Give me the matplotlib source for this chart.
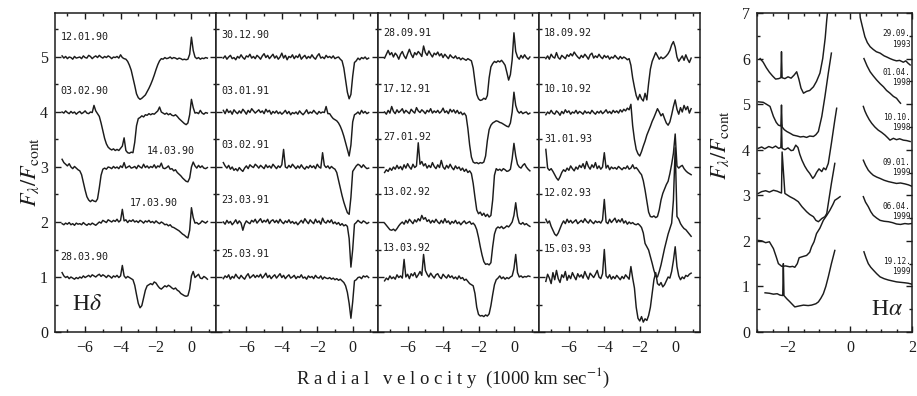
import numpy as np
import matplotlib
matplotlib.use('Agg')
import matplotlib.pyplot as plt
from matplotlib.ticker import MultipleLocator

plt.rcParams['font.family'] = ['Liberation Serif', 'DejaVu Serif']
plt.rcParams['mathtext.fontset'] = 'stix'

# Hdelta spectra: normalised flux sampled every 0.1 (1000 km/s) from -7.3 to 0.9
VEL = np.round(np.arange(-7.3, 0.95, 0.1), 2)

# panel 1 (1990)
s_120190 = [1.02, 0.98, 1.01, 0.97, 1.00, 0.99, 0.96, 1.01, 0.98, 0.99,
            1.00, 0.97, 1.02, 0.99, 0.98, 1.03, 1.01, 0.97, 1.00, 1.02,
            0.99, 1.03, 1.00, 0.98, 1.01, 0.99, 1.02, 1.00, 0.97, 1.00,
            0.99, 1.01, 0.98, 1.04, 0.99, 0.97, 0.96, 0.92, 0.85, 0.76,
            0.62, 0.48, 0.33, 0.26, 0.23, 0.25, 0.28, 0.31, 0.37, 0.43,
            0.50, 0.58, 0.67, 0.77, 0.86, 0.93, 0.97, 0.96, 0.99, 0.97,
            0.98, 1.00, 0.97, 0.99, 0.98, 0.96, 0.98, 0.97, 0.95, 0.96,
            0.95, 0.96, 1.05, 1.36, 1.12, 1.00, 0.97, 0.99, 0.96, 0.98,
            0.97, 0.99, 0.98]
s_030290 = [1.00, 0.98, 1.02, 0.99, 0.97, 1.01, 0.98, 1.00, 0.96, 0.99,
            1.01, 0.97, 0.99, 1.02, 0.98, 0.97, 1.00, 0.99, 1.12, 1.02,
            0.97, 0.92, 0.80, 0.66, 0.52, 0.42, 0.36, 0.33, 0.31, 0.33,
            0.30, 0.32, 0.30, 0.34, 0.38, 0.53, 0.30, 0.26, 0.25, 0.27,
            0.26, 0.45, 0.75, 0.88, 0.90, 0.93, 0.91, 0.95, 0.94, 0.97,
            0.95, 0.97, 0.96, 0.99, 1.02, 1.09, 1.00, 0.98, 0.96, 0.98,
            0.95, 0.97, 0.94, 0.93, 0.95, 0.92, 0.88, 0.85, 0.82, 0.79,
            0.77, 0.80, 0.95, 1.23, 1.08, 0.98, 0.99, 0.97, 1.03, 0.98,
            0.96, 0.99, 0.98]
s_140390 = [1.14, 1.08, 1.05, 1.02, 1.06, 1.00, 0.97, 1.01, 0.98, 0.95,
            0.93, 0.86, 0.72, 0.58, 0.46, 0.40, 0.37, 0.40, 0.38, 0.37,
            0.42, 0.62, 0.85, 0.96, 0.98, 0.96, 1.00, 0.99, 0.97, 1.01,
            0.98, 1.00, 0.97, 1.02, 0.99, 1.08, 0.98, 1.00, 1.02, 0.98,
            0.99, 1.01, 0.97, 1.03, 1.00, 0.98, 1.05, 0.99, 1.02, 0.98,
            1.01, 0.99, 1.04, 0.98, 1.02, 1.00, 1.07, 0.98, 0.97, 0.99,
            1.02, 0.96, 0.97, 0.93, 0.95, 0.90, 0.87, 0.84, 0.80, 0.77,
            0.74, 0.73, 0.80, 1.00, 1.09, 1.02, 0.98, 1.03, 0.99, 1.02,
            0.98, 0.97, 0.99]
s_170390 = [0.97, 0.95, 0.98, 0.96, 0.99, 0.95, 0.97, 0.94, 0.98, 0.96,
            0.97, 0.95, 0.99, 0.96, 0.94, 0.97, 0.95, 0.98, 0.96, 0.94,
            0.97, 1.00, 0.98, 1.03, 1.01, 0.99, 1.04, 1.02, 1.00, 1.03,
            1.01, 1.05, 1.00, 1.03, 1.23, 1.02, 1.04, 0.99, 1.03, 1.01,
            1.04, 1.00, 1.02, 0.99, 1.03, 1.01, 0.98, 1.02, 1.00, 1.03,
            0.99, 1.01, 0.98, 1.02, 0.99, 0.97, 1.00, 0.98, 0.95, 0.96,
            0.93, 0.95, 0.91, 0.90, 0.88, 0.86, 0.84, 0.81, 0.78, 0.76,
            0.73, 0.71, 0.85, 1.26, 1.08, 0.98, 0.99, 0.96, 0.98, 1.02,
            1.00, 0.98, 1.01]
s_280390 = [1.08, 1.02, 0.99, 1.01, 0.97, 1.00, 0.98, 0.96, 0.99, 0.97,
            1.00, 0.98, 1.02, 0.99, 1.01, 1.03, 1.00, 1.04, 1.02, 1.00,
            1.03, 1.05, 1.01, 1.04, 1.02, 0.99, 1.03, 1.01, 0.98, 1.02,
            1.00, 1.03, 0.99, 1.02, 1.21, 1.02, 0.98, 1.01, 0.99, 0.97,
            0.95, 0.85, 0.68, 0.52, 0.44, 0.48, 0.62, 0.76, 0.84, 0.86,
            0.88, 0.86, 0.91, 0.89, 0.84, 0.80, 0.78, 0.81, 0.84, 0.82,
            0.85, 0.83, 0.80, 0.78, 0.80, 0.76, 0.74, 0.70, 0.68, 0.66,
            0.65, 0.66, 0.78, 1.02, 1.10, 0.99, 1.02, 1.05, 0.98, 0.97,
            1.01, 0.99, 0.96]

# panel 2 (1990-91)
s_301290 = [0.98, 1.02, 0.96, 1.00, 1.03, 0.97, 0.99, 0.95, 1.01, 0.98,
            1.04, 0.99, 0.96, 1.02, 1.00, 1.05, 0.98, 1.01, 0.97, 1.03,
            1.00, 0.96, 1.02, 1.06, 0.99, 1.03, 0.97, 1.01, 1.05, 0.98,
            1.02, 0.96, 1.00, 1.07, 0.98, 1.03, 0.95, 1.01, 0.99, 1.04,
            0.97, 1.02, 0.99, 1.05, 0.96, 1.00, 1.03, 0.97, 1.01, 0.98,
            1.04, 0.99, 0.96, 1.02, 1.06, 0.98, 1.00, 0.97, 1.03, 0.99,
            1.01, 0.98, 1.02, 0.97, 0.99, 1.00, 0.96, 0.93, 0.80, 0.58,
            0.36, 0.24, 0.32, 0.65, 0.90, 0.93, 0.98, 0.95, 0.99, 0.97,
            1.00, 0.96, 0.98]
s_030191 = [1.03, 0.97, 1.05, 0.99, 1.02, 0.96, 1.04, 1.00, 0.97, 1.02,
            0.98, 1.05, 1.01, 0.96, 1.03, 0.99, 1.06, 1.02, 0.98, 1.01,
            1.04, 0.99, 1.02, 0.97, 1.05, 1.00, 1.03, 0.96, 1.01, 0.98,
            1.02, 0.97, 1.00, 0.96, 0.99, 1.03, 0.97, 1.01, 0.95, 0.99,
            0.97, 1.00, 0.96, 1.02, 0.98, 0.95, 0.99, 1.04, 0.97, 1.00,
            0.98, 1.03, 0.99, 0.96, 1.01, 0.98, 1.00, 0.99, 1.10, 0.97,
            0.97, 0.92, 0.88, 0.86, 0.84, 0.80, 0.74, 0.66, 0.56, 0.44,
            0.32, 0.20, 0.40, 0.82, 0.95, 0.97, 1.00, 0.96, 1.03, 0.98,
            1.01, 0.97, 0.99]
s_030291 = [1.08, 1.02, 0.98, 1.03, 0.96, 1.00, 0.94, 0.97, 0.93, 0.99,
            0.95, 0.92, 0.98, 1.02, 0.97, 1.04, 1.01, 0.99, 1.05, 1.02,
            0.98, 1.03, 1.00, 0.97, 1.04, 0.99, 1.02, 0.98, 1.05, 1.01,
            0.97, 1.02, 0.99, 1.04, 1.32, 1.00, 0.98, 1.03, 0.99, 1.05,
            1.01, 0.97, 1.02, 0.98, 1.04, 0.99, 0.96, 1.01, 0.98, 1.03,
            0.99, 1.02, 0.97, 1.05, 1.00, 0.98, 1.26, 1.03, 0.99, 1.02,
            0.97, 1.01, 0.98, 0.96, 0.90, 0.76, 0.62, 0.48, 0.36, 0.26,
            0.17, 0.14, 0.45, 0.92, 0.97, 1.02, 1.05, 1.03, 0.99, 1.04,
            1.00, 0.97, 0.98]
s_230391 = [1.00, 0.96, 1.03, 0.98, 1.01, 0.95, 0.99, 1.04, 0.97, 1.02,
            0.98, 0.85, 0.96, 1.02, 0.99, 0.97, 1.03, 1.00, 1.05, 0.98,
            1.02, 1.06, 0.99, 1.03, 1.00, 1.05, 0.97, 1.02, 1.04, 0.99,
            1.03, 0.98, 1.05, 1.00, 0.97, 1.02, 0.99, 1.04, 0.98, 1.01,
            0.97, 1.00, 0.95, 0.99, 1.03, 0.98, 1.06, 1.01, 0.97, 1.04,
            1.00, 0.97, 1.05, 0.99, 1.02, 0.96, 1.07, 1.00, 0.98, 1.03,
            0.99, 1.04, 0.97, 1.00, 0.96, 0.99, 0.94, 0.97, 0.93, 0.95,
            0.92, 0.70, 0.18, 0.50, 0.96, 0.99, 1.03, 1.00, 0.98, 1.02,
            1.00, 0.97, 0.99]
s_250391 = [0.97, 1.02, 0.99, 1.04, 0.96, 1.01, 0.98, 1.05, 1.00, 0.97,
            1.03, 0.99, 0.96, 1.02, 1.06, 0.98, 1.01, 1.04, 0.99, 1.03,
            1.00, 1.05, 0.98, 1.02, 1.07, 0.99, 1.03, 0.97, 1.01, 1.04,
            0.98, 1.02, 1.06, 0.99, 1.03, 0.97, 1.01, 1.04, 0.98, 1.00,
            1.03, 0.97, 1.01, 0.99, 1.04, 0.98, 1.00, 0.96, 1.02, 0.99,
            1.01, 0.97, 1.03, 0.99, 0.98, 1.02, 0.96, 1.00, 0.98, 0.97,
            0.99, 0.96, 0.98, 0.95, 0.97, 0.94, 0.96, 0.93, 0.90, 0.84,
            0.72, 0.52, 0.25, 0.55, 0.93, 0.95, 0.99, 1.00, 0.97, 1.02,
            1.00, 1.02, 0.99]

# panel 3 (1991-92)
s_280991 = [0.98, 1.05, 1.12, 1.04, 1.08, 1.00, 1.07, 1.03, 0.96, 1.05,
            1.10, 1.02, 0.97, 1.06, 1.14, 1.05, 0.99, 1.08, 1.04, 1.10,
            1.06, 1.01, 1.20, 1.08, 1.03, 1.11, 1.05, 1.00, 1.07, 1.04,
            1.09, 1.02, 1.06, 0.99, 1.05, 1.01, 0.97, 1.04, 1.00, 0.98,
            1.02, 0.97, 0.99, 0.95, 0.98, 0.96, 0.94, 0.97, 0.95, 0.93,
            0.80, 0.55, 0.32, 0.24, 0.21, 0.22, 0.25, 0.23, 0.30, 0.62,
            0.82, 0.88, 0.92, 0.90, 0.93, 0.91, 0.94, 0.90, 0.85, 0.72,
            0.58, 0.68, 0.95, 1.44, 1.10, 1.00, 0.96, 1.03, 0.98, 1.04,
            0.99, 0.96, 1.00]
s_171291 = [1.00, 0.96, 1.03, 0.98, 1.10, 1.01, 0.97, 1.04, 0.99, 1.02,
            1.06, 0.98, 1.03, 1.00, 0.97, 1.05, 1.01, 0.98, 1.08, 1.02,
            0.99, 1.04, 1.01, 0.97, 1.03, 1.00, 1.06, 0.98, 1.02, 0.99,
            1.03, 0.98, 1.01, 1.07, 0.99, 1.02, 0.97, 1.05, 1.00, 1.04,
            0.98, 1.03, 0.97, 1.00, 0.95, 0.98, 0.93, 0.70, 0.40, 0.18,
            0.09, 0.07, 0.08, 0.06, 0.08, 0.07, 0.09, 0.20, 0.48, 0.68,
            0.76, 0.80, 0.82, 0.84, 0.83, 0.81, 0.80, 0.78, 0.76, 0.74,
            0.73, 0.80, 1.00, 1.36, 1.12, 1.02, 0.98, 1.01, 0.97, 0.99,
            1.00, 0.96, 0.98]
s_270192 = [0.90, 0.95, 0.92, 0.98, 0.94, 1.00, 0.96, 1.03, 0.97, 1.01,
            0.95, 1.04, 0.98, 1.06, 1.00, 0.96, 1.05, 0.99, 1.02, 1.44,
            1.05, 1.10, 1.02, 1.06, 0.98, 1.03, 0.99, 1.08, 1.01, 0.97,
            1.04, 0.99, 1.12, 1.00, 0.96, 1.03, 0.98, 1.05, 0.99, 0.95,
            1.02, 0.97, 1.00, 0.94, 0.98, 0.92, 0.96, 0.90, 0.93, 0.88,
            0.70, 0.45, 0.22, 0.15, 0.18, 0.12, 0.16, 0.10, 0.14, 0.09,
            0.12, 0.40, 0.85, 0.97, 0.94, 0.96, 0.93, 0.97, 0.95, 0.92,
            0.93, 0.96, 1.15, 1.43, 1.20, 1.05, 1.00, 0.98, 1.03, 1.06,
            1.00, 0.96, 0.93]
s_130292 = [0.98, 0.94, 0.90, 0.86, 0.85, 0.87, 0.84, 0.88, 0.93, 0.97,
            1.00, 0.96, 1.03, 0.98, 1.05, 1.01, 0.97, 1.04, 1.00, 1.06,
            1.02, 1.12, 1.05, 1.08, 1.01, 1.04, 0.98, 1.03, 0.99, 1.05,
            1.00, 0.97, 1.03, 0.98, 1.06, 0.99, 1.02, 0.96, 1.01, 0.98,
            1.03, 0.97, 1.00, 0.95, 0.99, 1.02, 0.97, 0.99, 1.01, 0.96,
            0.98, 0.94, 0.86, 0.72, 0.55, 0.40, 0.28, 0.23, 0.24, 0.22,
            0.26, 0.55, 0.78, 0.88, 0.91, 0.89, 0.92, 0.88, 0.90, 0.93,
            0.91, 0.95, 1.00, 1.12, 1.35, 1.10, 0.98, 0.96, 0.99, 0.95,
            0.97, 0.94, 0.92]
s_130392 = [0.93, 0.98, 0.95, 1.02, 0.97, 1.00, 0.96, 1.04, 0.99, 1.02,
            0.98, 1.32, 1.00, 1.05, 0.97, 1.06, 1.02, 1.08, 0.99, 1.04,
            1.10, 1.03, 1.41, 1.12, 1.05, 1.00, 1.07, 1.02, 0.98, 1.04,
            1.06, 1.00, 0.97, 1.05, 1.01, 0.98, 1.04, 0.99, 1.02, 0.97,
            1.00, 0.96, 1.02, 0.97, 0.99, 0.94, 0.96, 0.92, 0.88, 0.86,
            0.84, 0.70, 0.45, 0.32, 0.29, 0.30, 0.28, 0.31, 0.29, 0.33,
            0.48, 0.68, 0.86, 0.95, 0.98, 1.02, 0.97, 1.00, 0.96, 0.99,
            0.97, 1.00, 1.02, 1.15, 1.41, 1.08, 1.00, 1.02, 0.99, 1.01,
            1.00, 1.02, 1.01]

# panel 4 (1992-93)
s_180992 = [0.97, 1.02, 0.96, 1.05, 1.00, 0.98, 1.08, 0.99, 0.96, 1.03,
            1.00, 0.97, 1.04, 1.01, 1.06, 1.02, 1.09, 1.04, 1.00, 0.97,
            1.03, 0.99, 1.05, 1.01, 0.96, 1.04, 1.07, 0.98, 1.02, 0.99,
            1.05, 1.00, 0.97, 1.03, 0.99, 1.02, 0.96, 1.00, 0.98, 1.03,
            0.99, 0.96, 1.01, 0.97, 1.00, 0.98, 0.95, 0.97, 0.85, 0.62,
            0.45, 0.30, 0.22, 0.32, 0.24, 0.20, 0.34, 0.22, 0.52, 0.78,
            0.92, 1.00, 1.08, 1.02, 0.96, 1.00, 0.97, 0.99, 1.02, 1.06,
            1.12, 1.22, 1.28, 1.18, 1.00, 0.92, 0.97, 1.02, 0.94, 1.04,
            0.96, 0.90, 0.98]
s_101092 = [0.95, 1.00, 0.97, 1.03, 0.98, 0.96, 1.02, 0.99, 0.94, 1.01,
            0.97, 1.04, 0.99, 1.02, 0.96, 1.00, 0.98, 1.03, 0.97, 1.01,
            0.99, 0.96, 1.02, 0.98, 1.00, 0.97, 1.03, 0.99, 0.96, 1.01,
            0.98, 1.02, 0.97, 1.00, 1.04, 0.98, 1.01, 0.97, 1.03, 0.99,
            1.02, 0.98, 1.04, 1.00, 1.05, 1.02, 1.07, 1.04, 1.14, 0.75,
            0.50, 0.32, 0.24, 0.20, 0.28, 0.38, 0.47, 0.58, 0.66, 0.74,
            0.83, 0.90, 0.98, 1.06, 1.00, 0.93, 0.97, 0.88, 0.80, 0.76,
            0.82, 0.95, 1.10, 1.22, 1.05, 0.96, 1.08, 1.00, 1.12, 1.04,
            1.10, 0.98, 1.06]
s_310193 = [1.32, 0.98, 0.94, 0.97, 0.92, 0.86, 0.80, 0.76, 0.82, 0.90,
            0.95, 0.92, 0.98, 0.94, 1.02, 0.97, 0.93, 1.00, 0.96, 1.03,
            0.99, 1.06, 0.97, 1.10, 1.01, 0.96, 1.04, 0.99, 1.08, 0.97,
            1.02, 0.96, 1.00, 1.26, 0.98, 1.03, 0.95, 1.00, 0.97, 0.99,
            0.96, 1.01, 0.98, 0.95, 0.99, 0.97, 1.02, 0.96, 0.98, 1.04,
            0.97, 0.99, 0.95, 0.90, 0.86, 0.75, 0.58, 0.38, 0.18, 0.10,
            0.09, 0.11, 0.08, 0.10, 0.22, 0.40, 0.52, 0.60, 0.68, 0.74,
            0.88, 1.05, 1.25, 1.60, 1.02, 0.98, 1.01, 1.03, 0.97, 0.93,
            0.90, 0.88, 0.86]
s_120293 = [1.05, 0.98, 1.02, 0.92, 0.85, 0.78, 0.75, 0.80, 0.88, 0.96,
            1.02, 0.97, 1.05, 0.99, 1.03, 0.98, 1.01, 1.04, 0.97, 1.00,
            1.03, 0.99, 1.06, 1.01, 0.98, 1.04, 1.00, 0.97, 1.02, 0.99,
            1.01, 0.98, 1.04, 1.41, 1.00, 0.97, 1.05, 0.99, 1.03, 1.07,
            0.99, 1.04, 1.00, 1.06, 0.98, 1.02, 0.96, 1.00, 0.97, 0.99,
            0.96, 0.95, 0.97, 0.94, 0.90, 0.80, 0.61, 0.55, 0.49, 0.37,
            0.25, 0.12, 0.02, 0.00, 0.10, 0.22, 0.37, 0.52, 0.65, 0.78,
            0.88, 0.98, 1.40, 2.35, 1.10, 1.05, 0.97, 0.92, 0.88, 0.86,
            0.82, 0.78, 0.74]
s_150393 = [0.92, 1.05, 0.98, 0.88, 1.08, 0.95, 1.12, 0.97, 0.90, 1.04,
            0.99, 1.10, 0.94, 1.03, 0.97, 1.08, 1.01, 0.95, 1.06, 1.00,
            1.04, 0.98, 1.10, 1.02, 0.96, 1.07, 1.03, 0.99, 1.05, 1.12,
            1.00, 0.97, 1.06, 1.50, 1.02, 0.98, 1.04, 0.96, 1.01, 0.97,
            1.03, 0.99, 0.95, 1.01, 0.97, 1.04, 1.00, 0.96, 1.19, 0.98,
            0.80, 0.45, 0.25, 0.20, 0.28, 0.18, 0.24, 0.21, 0.30, 0.45,
            0.70, 0.95, 1.08, 0.88, 0.85, 0.90, 0.82, 0.86, 0.93, 1.00,
            0.98, 1.10, 1.30, 1.55, 1.19, 1.02, 0.95, 1.00, 0.97, 1.03,
            1.01, 1.05, 1.07]

offsets = [5, 4, 3, 2, 1]
panels = [
    [('12.01.90', s_120190), ('03.02.90', s_030290), ('14.03.90', s_140390),
     ('17.03.90', s_170390), ('28.03.90', s_280390)],
    [('30.12.90', s_301290), ('03.01.91', s_030191), ('03.02.91', s_030291),
     ('23.03.91', s_230391), ('25.03.91', s_250391)],
    [('28.09.91', s_280991), ('17.12.91', s_171291), ('27.01.92', s_270192),
     ('13.02.92', s_130292), ('13.03.92', s_130392)],
    [('18.09.92', s_180992), ('10.10.92', s_101092), ('31.01.93', s_310193),
     ('12.02.93', s_120293), ('15.03.93', s_150393)],
]
label_dy = [[0.36, 0.38, 0.30, 0.35, 0.36],
            [0.40, 0.38, 0.40, 0.40, 0.42],
            [0.44, 0.42, 0.55, 0.55, 0.53],
            [0.44, 0.42, 0.50, 0.53, 0.50]]

# Halpha spectra (blue and red parts of the line, absolute units incl. offset)
ha_dates = ['29.09.\n1993', '01.04.\n1998', '10.10.\n1998',
            '09.01.\n1999', '06.04.\n1999', '19.12.\n1999']
ha_label_y = [6.43, 5.58, 4.60, 3.60, 2.64, 1.44]

ha_blue_v = [
    [-2.9, -2.8, -2.7, -2.6, -2.5, -2.4, -2.3, -2.23, -2.21, -2.19, -2.1, -2.0, -1.9,
     -1.8, -1.72, -1.65, -1.58, -1.5, -1.4, -1.3, -1.18, -1.08, -0.97, -0.88, -0.8,
     -0.75, -0.68],
    [-2.95, -2.8, -2.7, -2.58, -2.47, -2.38, -2.31, -2.23, -2.21, -2.19, -2.12, -2.04,
     -1.93, -1.83, -1.7, -1.6, -1.5, -1.4, -1.3, -1.18, -1.1, -1.02, -0.91, -0.81,
     -0.7, -0.6],
    [-2.96, -2.85, -2.75, -2.62, -2.5, -2.4, -2.3, -2.23, -2.21, -2.19, -2.1, -2.0,
     -1.9, -1.83, -1.75, -1.68, -1.62, -1.55, -1.46, -1.38, -1.3, -1.2, -1.14, -1.08,
     -1.0, -0.91, -0.85, -0.78, -0.7, -0.6, -0.49, -0.43],
    [-2.96, -2.85, -2.72, -2.6, -2.47, -2.35, -2.25, -2.21, -2.19, -2.1, -1.94, -1.8,
     -1.67, -1.55, -1.4, -1.3, -1.18, -1.1, -1.02, -0.91, -0.81, -0.75, -0.7, -0.6,
     -0.49],
    [-2.96, -2.85, -2.72, -2.6, -2.47, -2.38, -2.31, -2.2, -2.08, -1.94, -1.85, -1.78,
     -1.7, -1.64, -1.55, -1.4, -1.3, -1.24, -1.16, -1.08, -0.97, -0.86, -0.75, -0.65,
     -0.55, -0.49, -0.4, -0.32],
    [-2.74, -2.6, -2.47, -2.35, -2.26, -2.17, -2.15, -2.13, -2.04, -1.95, -1.88, -1.78,
     -1.65, -1.5, -1.35, -1.24, -1.1, -1.02, -0.94, -0.86, -0.78, -0.7, -0.6, -0.49],
]
ha_blue_f = [
    [6.0, 5.92, 5.8, 5.7, 5.62, 5.55, 5.56, 5.58, 6.15, 5.58, 5.56, 5.6, 5.57, 5.64,
     5.71, 5.55, 5.35, 5.24, 5.28, 5.30, 5.38, 5.5, 5.68, 6.0, 6.45, 6.85, 7.3],
    [5.05, 5.04, 5.0, 4.95, 4.73, 4.6, 4.54, 4.52, 4.98, 4.5, 4.44, 4.4, 4.36, 4.32,
     4.3, 4.28, 4.29, 4.27, 4.3, 4.29, 4.33, 4.4, 4.73, 5.16, 5.68, 6.12],
    [4.03, 4.06, 4.02, 4.07, 4.04, 4.08, 4.03, 4.05, 4.55, 4.03, 4.0, 4.04, 3.98, 3.99,
     4.1, 4.05, 3.9, 3.77, 3.64, 3.55, 3.48, 3.37, 3.42, 3.5, 3.58, 3.52, 3.6, 3.56,
     3.7, 4.14, 4.65, 4.91],
    [3.04, 3.08, 3.1, 3.07, 3.11, 3.09, 3.06, 3.05, 3.95, 3.04, 2.97, 2.92, 2.86, 2.75,
     2.64, 2.58, 2.53, 2.45, 2.42, 2.49, 2.53, 2.6, 2.82, 3.26, 3.7],
    [2.01, 2.0, 1.96, 1.98, 1.83, 1.65, 1.5, 1.44, 1.45, 1.43, 1.44, 1.42, 1.5, 1.63,
     1.65, 1.68, 1.75, 1.87, 1.98, 2.16, 2.28, 2.45, 2.56, 2.67, 2.8, 2.89, 2.93, 2.97],
    [0.86, 0.85, 0.83, 0.84, 0.81, 0.8, 1.5, 0.8, 0.73, 0.67, 0.62, 0.55, 0.57, 0.59,
     0.58, 0.59, 0.62, 0.66, 0.74, 0.84, 1.0, 1.21, 1.5, 1.79],
]
ha_red_v = [
    [0.3, 0.33, 0.4, 0.48, 0.56, 0.65, 0.75, 0.85, 0.97, 1.1, 1.2, 1.29, 1.4, 1.5, 1.6,
     1.72, 1.8, 1.87, 1.94],
    [0.45, 0.55, 0.65, 0.75, 0.86, 0.97, 1.08, 1.18, 1.29, 1.4, 1.5, 1.58, 1.63],
    [0.43, 0.48, 0.54, 0.62, 0.7, 0.8, 0.91, 1.02, 1.13, 1.22, 1.29, 1.4, 1.5, 1.6,
     1.72, 1.83, 1.94],
    [0.43, 0.5, 0.59, 0.67, 0.75, 0.86, 0.97, 1.1, 1.24, 1.37, 1.5, 1.63, 1.77, 1.88, 1.99],
    [0.43, 0.5, 0.59, 0.67, 0.75, 0.86, 0.97, 1.1, 1.24, 1.37, 1.5, 1.63, 1.77, 1.88, 1.99],
    [0.45, 0.52, 0.59, 0.67, 0.75, 0.86, 0.97, 1.1, 1.24, 1.37, 1.5, 1.63, 1.77, 1.88, 1.99],
]
ha_red_f = [
    [7.2, 6.9, 6.7, 6.48, 6.35, 6.26, 6.2, 6.15, 6.12, 6.06, 6.03, 6.0, 5.97, 5.95, 5.96,
     5.92, 5.95, 5.9, 5.86],
    [6.0, 5.84, 5.71, 5.62, 5.53, 5.45, 5.38, 5.3, 5.24, 5.17, 5.13, 5.06, 5.02],
    [4.95, 4.85, 4.76, 4.66, 4.58, 4.5, 4.43, 4.38, 4.32, 4.26, 4.21, 4.25, 4.22, 4.24,
     4.21, 4.2, 4.18],
    [3.77, 3.66, 3.55, 3.49, 3.44, 3.4, 3.37, 3.33, 3.3, 3.28, 3.26, 3.27, 3.25, 3.23, 3.2],
    [2.97, 2.85, 2.75, 2.64, 2.56, 2.5, 2.45, 2.43, 2.42, 2.4, 2.37, 2.36, 2.38, 2.37, 2.38],
    [1.76, 1.62, 1.5, 1.42, 1.36, 1.28, 1.21, 1.17, 1.14, 1.12, 1.1, 1.09, 1.08, 1.07, 1.05],
]

INK = '#1c1c1c'
W, H = 917, 396
fig = plt.figure(figsize=(W / 100, H / 100), dpi=100)


def style_axes(ax, xmaj, xmin, ymaj, ymin):
    ax.xaxis.set_major_locator(MultipleLocator(xmaj))
    ax.xaxis.set_minor_locator(MultipleLocator(xmin))
    ax.yaxis.set_major_locator(MultipleLocator(ymaj))
    ax.yaxis.set_minor_locator(MultipleLocator(ymin))
    ax.tick_params(which='both', direction='in', top=True, right=True,
                   color=INK, width=1.0, labelsize=11.5, labelcolor=INK)
    ax.tick_params(which='major', length=4.5)
    ax.tick_params(which='minor', length=2.5)
    ax.tick_params(axis='x', pad=6)
    ax.tick_params(axis='y', pad=5)
    for sp in ax.spines.values():
        sp.set_linewidth(1.1)
        sp.set_color(INK)


# Hdelta panels
pw = 161.25
for i, panel in enumerate(panels):
    ax = fig.add_axes([(55 + i * pw) / W, 64 / H, pw / W, 319 / H])
    for j, (date, flux) in enumerate(panel):
        off = offsets[j]
        ax.plot(VEL, np.array(flux) + off - 1, color=INK, lw=1.05)
        xl = -7.4
        if date == '14.03.90':
            xl = -2.5
        elif date == '17.03.90':
            xl = -3.5
        ax.text(xl, off + label_dy[i][j], date, family='DejaVu Sans Mono',
                fontsize=7.2, color=INK, va='center', ha='left')
    ax.set_xlim(-7.7, 1.4)
    ax.set_ylim(0, 5.8)
    style_axes(ax, 2, 1, 1, 0.5)
    if i > 0:
        ax.tick_params(axis='y', labelleft=False)
    else:
        ax.text(-6.75, 0.5, r'H$\delta$', fontsize=17, color=INK, va='center')

# Halpha panel
ax = fig.add_axes([757 / W, 64 / H, 155 / W, 319 / H])
for k in range(len(ha_dates)):
    ax.plot(ha_blue_v[k], ha_blue_f[k], color=INK, lw=1.05)
    ax.plot(ha_red_v[k], ha_red_f[k], color=INK, lw=1.05)
    ax.text(1.95, ha_label_y[k], ha_dates[k], family='DejaVu Sans Mono',
            fontsize=5.6, color=INK, ha='right', va='center', linespacing=1.15)
ax.set_xlim(-3, 2)
ax.set_ylim(0, 7)
style_axes(ax, 2, 0.5, 1, 0.5)
ax.text(0.68, 0.5, r'H$\alpha$', fontsize=17, color=INK, va='center')

ylab = r'$F_{\lambda}/F_{\rm cont}$'
fig.text(30 / W, 1 - 172 / H, ylab, rotation=90, fontsize=16, color=INK,
         ha='center', va='center')
fig.text(720 / W, 1 - 145 / H, ylab, rotation=90, fontsize=16, color=INK,
         ha='center', va='center')
fig.text(453 / W, 1 - 378 / H,
         'R a d i a l   v e l o c i t y  (1000 km sec$^{-1}$)',
         fontsize=13.5, color=INK, ha='center', va='center')

fig.savefig('out.png', dpi=100, facecolor='white')
